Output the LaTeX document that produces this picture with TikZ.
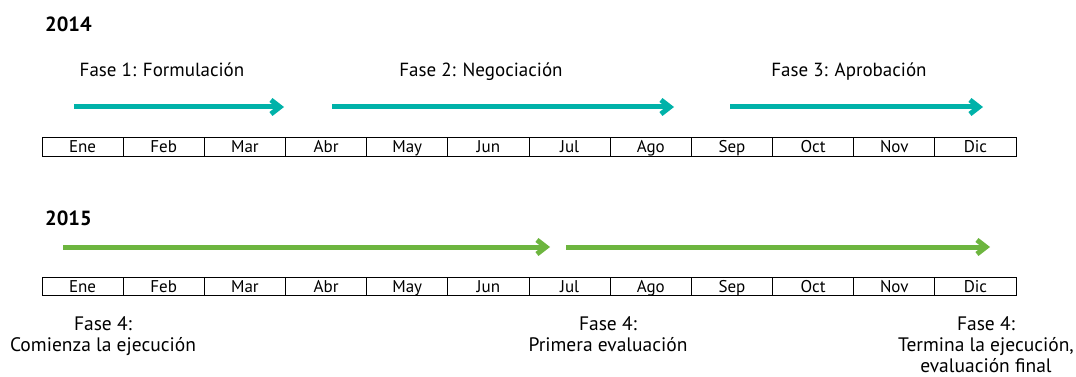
\documentclass[tikz,border=0pt]{standalone}
\usepackage{fontspec}
\setmainfont{PT Sans}
\usetikzlibrary{arrows.meta}
\definecolor{faseteal}{RGB}{0,178,169}
\definecolor{fasegreen}{RGB}{109,181,63}
\tikzset{
  fase/.style={line width=5pt,-{Straight Barb[length=9pt,width=14pt]}},
  celda/.style={draw,line width=1pt,minimum width=81.17pt,minimum height=18pt,
    inner sep=0pt,text height=13pt,text depth=2pt,font=\fontsize{17}{19}\selectfont},
  etiqueta/.style={anchor=base,font=\fontsize{19}{22}\selectfont},
  anio/.style={anchor=base west,inner sep=0pt,font=\fontsize{20.5}{22}\selectfont\bfseries},
  nota/.style={anchor=north,inner sep=0pt,align=center,font=\fontsize{19.5}{21}\selectfont}
}
\begin{document}
\begin{tikzpicture}[x=1pt,y=-1pt]
\useasboundingbox (0,0) rectangle (1076,377);
\node[anio] (y14) at (45,32) {2014};
\node[anio] (y15) at (45,225) {2015};
\foreach \m [count=\i] in {Ene,Feb,Mar,Abr,May,Jun,Jul,Ago,Sep,Oct,Nov,Dic} {
\node[celda] (a\i) at ({42+81.17*(\i-0.5)},147) {\m};
\node[celda] (b\i) at ({42+81.17*(\i-0.5)},286.5) {\m};}
% fases 2014
\node[etiqueta] (t1) at (162,77) {Fase 1: Formulación};
\node[etiqueta] (t2) at (481,77) {Fase 2: Negociación};
\node[etiqueta] (t3) at (849,77) {Fase 3: Aprobación};
\coordinate (f1a) at (74,107); \coordinate (f1b) at (284,107);
\coordinate (f2a) at (332,107); \coordinate (f2b) at (674,107);
\coordinate (f3a) at (730,107); \coordinate (f3b) at (983,107);
\draw[fase,faseteal] (f1a)--(f1b);
\draw[fase,faseteal] (f2a)--(f2b);
\draw[fase,faseteal] (f3a)--(f3b);
% fase 4, 2015
\coordinate (g1a) at (63,247); \coordinate (g1b) at (550,247);
\coordinate (g2a) at (566,247); \coordinate (g2b) at (990,247);
\draw[fase,fasegreen] (g1a)--(g1b);
\draw[fase,fasegreen] (g2a)--(g2b);
\node[nota] (n1) at (103,316) {Fase 4:\\Comienza la ejecución};
\node[nota] (n2) at (608,316) {Fase 4:\\Primera evaluación};
\node[nota] (n3) at (986,316) {Fase 4:\\Termina la ejecución,\\evaluación final};
\end{tikzpicture}
\end{document}
